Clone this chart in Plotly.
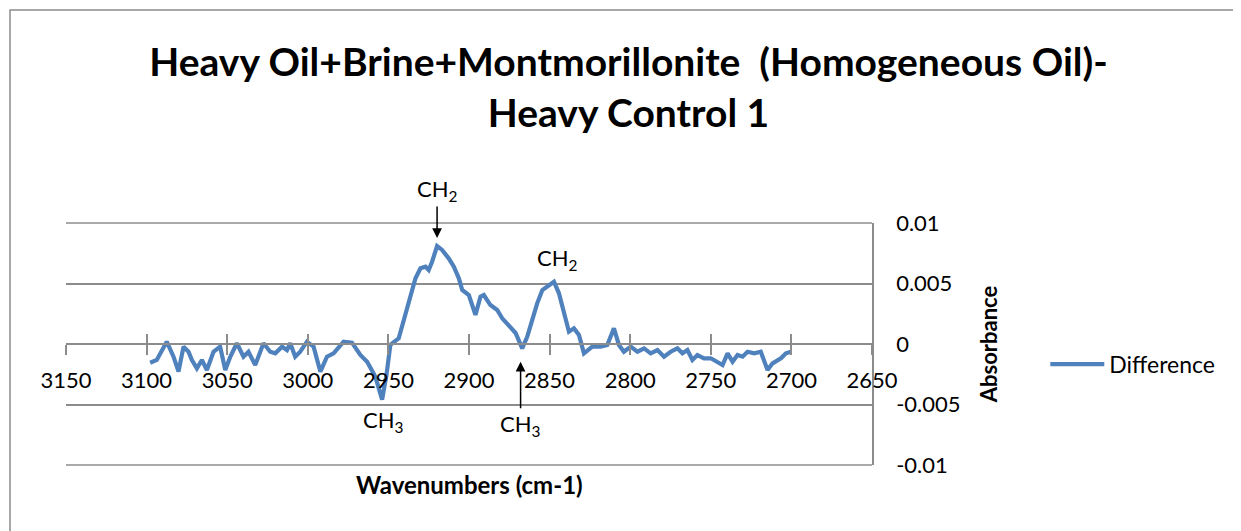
import plotly.graph_objects as go

wavenumber = [3097.8, 3093.7, 3087.5, 3083.3, 3080.2, 3077.1, 3074.0, 3071.9, 3068.8, 3065.7,
              3062.6, 3058.5, 3054.4, 3051.2, 3048.1, 3044.0, 3039.9, 3036.8, 3032.6, 3027.5,
              3023.3, 3020.2, 3016.0, 3012.9, 3010.9, 3007.8, 3004.7, 3000.5, 2996.4, 2992.2,
              2988.1, 2984.0, 2977.8, 2972.6, 2967.4, 2963.2, 2958.1, 2953.9, 2951.2, 2948.8,
              2943.6, 2939.4, 2935.3, 2933.2, 2930.1, 2927.0, 2925.0, 2922.9, 2919.8, 2916.7,
              2912.6, 2909.4, 2906.3, 2904.2, 2900.1, 2896.0, 2892.9, 2890.8, 2886.7, 2882.5,
              2879.4, 2875.3, 2871.1, 2867.0, 2863.9, 2860.8, 2857.7, 2854.5, 2850.4, 2847.3,
              2844.2, 2841.1, 2838.0, 2834.9, 2831.8, 2828.7, 2825.6, 2823.5, 2818.3, 2814.2,
              2810.1, 2807.0, 2803.9, 2799.7, 2795.5, 2791.4, 2787.3, 2783.1, 2779.0, 2774.9,
              2770.7, 2767.6, 2764.5, 2761.4, 2758.3, 2754.2, 2750.0, 2745.9, 2742.7, 2739.6,
              2736.5, 2733.4, 2730.3, 2727.2, 2723.1, 2719.0, 2714.8, 2711.7, 2708.6, 2706.5,
              2703.4, 2700.3]

absorbance = [-0.00155, -0.00132, 0.00019, -0.00105, -0.00229, -0.00022, -0.00064, -0.00132, -0.00201, -0.00132,
              -0.00215, -0.00064, -0.00022, -0.00215, -0.00105, 0.00006, -0.00105, -0.00064, -0.00174, 0.00006,
              -0.00064, -0.00077, -0.00022, -0.0005, 0.00006, -0.00105, -0.00064, 0.00019, -0.00022, -0.00229,
              -0.00105, -0.00077, 0.00019, 0.00011, -0.00091, -0.00146, -0.0027, -0.0046, -0.00256, -0.00008,
              0.00047, 0.00254, 0.00446, 0.00543, 0.00626, 0.00639, 0.00612, 0.0068, 0.0081, 0.00777,
              0.00708, 0.00639, 0.00543, 0.00446, 0.00405, 0.0024, 0.00391, 0.00405, 0.00322, 0.00281,
              0.00212, 0.00157, 0.00091, -0.00036, 0.0006, 0.00198, 0.00336, 0.00446, 0.00488, 0.00515,
              0.00419, 0.00254, 0.00102, 0.0013, 0.00074, -0.00077, -0.0005, -0.00022, -0.00022, -0.00008,
              0.0013, -0.00008, -0.00064, -0.00022, -0.00064, -0.00036, -0.00077, -0.0005, -0.00105, -0.00064,
              -0.00036, -0.00077, -0.0005, -0.00132, -0.00091, -0.00118, -0.00118, -0.00146, -0.00174, -0.00077,
              -0.00146, -0.00091, -0.00105, -0.00064, -0.00077, -0.00064, -0.00215, -0.0016, -0.00132, -0.00118,
              -0.00077, -0.00064]

x_tick_vals = [3150, 3100, 3050, 3000, 2950, 2900, 2850, 2800, 2750, 2700, 2650]
x_tick_text = ["3150", "3100", "3050", "3000", "2950", "2900", "2850", "2800", "2750", "2700", "2650"]
y_tick_vals = [0.01, 0.005, 0, -0.005, -0.01]
y_tick_text = ["0.01", "0.005", "0", "-0.005", "-0.01"]

# peak labels: (text, wavenumber, absorbance, arrow?, ax, ay)
peak_labels = [
    ("CH<sub>2</sub>", 2919.8, 0.00876, True, 0, -48),
    ("CH<sub>2</sub>", 2845.0, 0.0070, False, 0, 0),
    ("CH<sub>3</sub>", 2953.0, -0.00640, False, 0, 0),
    ("CH<sub>3</sub>", 2868.0, -0.00146, True, 0, 63),
]

FONT = "Lato, Carlito, Calibri, sans-serif"
GRID = "#8C8C8C"
LINE = "#4F81BD"

fig = go.Figure()
fig.add_trace(go.Scatter(
    x=wavenumber, y=absorbance, mode="lines", name="Difference",
    line=dict(color=LINE, width=4.2),
))

annotations = []
for text, wx, wy, arrow, ax, ay in peak_labels:
    a = dict(x=wx, y=wy, xref="x", yref="y", text=text, showarrow=arrow,
             font=dict(family=FONT, size=22, color="#000000"))
    if arrow:
        a.update(ax=ax, ay=ay, arrowhead=2, arrowsize=1.3, arrowwidth=1.5,
                 arrowcolor="#000000", standoff=0)
    annotations.append(a)

annotations.append(dict(x=0.5, y=-0.148, xref="paper", yref="paper",
                        text="<b>Wavenumbers (cm-1)</b>", showarrow=False,
                        font=dict(family=FONT, size=24, color="#000000")))

fig.update_layout(
    width=1241, height=531,
    margin=dict(l=58, r=377, t=215, b=74),
    paper_bgcolor="white", plot_bgcolor="white",
    font=dict(family=FONT, size=22, color="#000000"),
    title=dict(text="<b>Heavy Oil+Brine+Montmorillonite  (Homogeneous Oil)-<br>Heavy Control 1</b>",
               x=0.5, xanchor="center", y=1 - 68 / 531, yanchor="middle", yref="container",
               font=dict(family=FONT, size=39, color="#000000")),
    xaxis=dict(range=[3150, 2650], tickvals=x_tick_vals, ticktext=x_tick_text,
               anchor="free", position=0.5, showgrid=False, zeroline=False,
               showline=True, linecolor=GRID, linewidth=1.5,
               ticks="outside", ticklen=10, tickwidth=1.5, tickcolor=GRID,
               ticklabelstandoff=7, tickfont=dict(family=FONT, size=22)),
    xaxis2=dict(range=[3150, 2650], tickvals=x_tick_vals, overlaying="x",
                anchor="free", position=0.5, showgrid=False, zeroline=False,
                showline=False, showticklabels=False,
                ticks="inside", ticklen=10, tickwidth=1.5, tickcolor=GRID),
    yaxis=dict(range=[-0.01, 0.01], tickvals=y_tick_vals, ticktext=y_tick_text,
               side="right", showgrid=True, gridcolor=GRID, gridwidth=1.5,
               zeroline=False, showline=True, linecolor=GRID, linewidth=1.5,
               ticks="", ticklabelstandoff=18, tickfont=dict(family=FONT, size=22),
               title=dict(text="<b>Absorbance</b>", standoff=22,
                          font=dict(family=FONT, size=22))),
    legend=dict(x=1.215, xanchor="left", y=0.417, yanchor="middle",
                font=dict(family=FONT, size=23), itemwidth=54,
                bgcolor="rgba(0,0,0,0)"),
    showlegend=True,
    annotations=annotations,
    shapes=[
        dict(type="rect", xref="paper", yref="paper",
             x0=-56 / 806, x1=1.6, y0=-0.5, y1=455 / 242,
             line=dict(color="#8C8C8C", width=1.5)),
        dict(type="line", xref="paper", yref="paper", x0=0, x1=1, y0=1, y1=1,
             line=dict(color=GRID, width=1.5), layer="below"),
        dict(type="line", xref="paper", yref="paper", x0=0, x1=1, y0=0, y1=0,
             line=dict(color=GRID, width=1.5), layer="below"),
    ],
)

# invisible trace to bind the inside-tick axis
fig.add_trace(go.Scatter(x=[3150], y=[None], xaxis="x2", showlegend=False, hoverinfo="skip"))

fig.write_html("out.html")
